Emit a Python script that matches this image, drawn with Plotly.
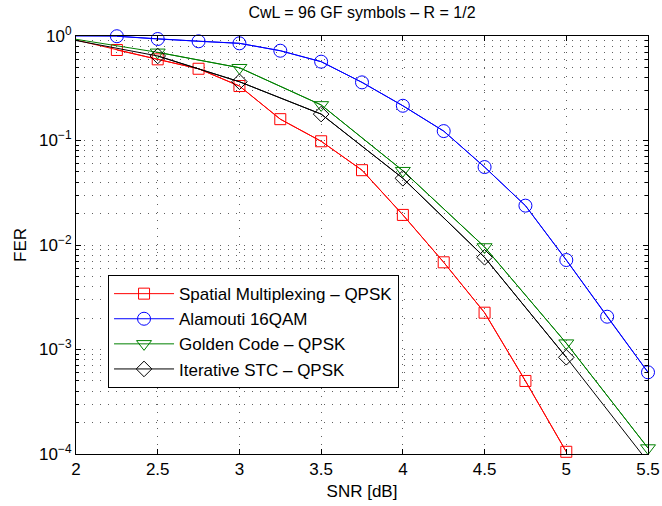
import plotly.graph_objects as go

# Data
x_sm = [2.0, 2.25, 2.5, 2.75, 3.0, 3.25, 3.5, 3.75, 4.0, 4.25, 4.5, 4.75, 5.0]
y_sm = [0.915, 0.735, 0.598, 0.486, 0.332, 0.16, 0.0983, 0.052, 0.0194, 0.00683, 0.00225, 0.0005, 1.05e-4]

x_al = [2.0, 2.25, 2.5, 2.75, 3.0, 3.25, 3.5, 3.75, 4.0, 4.25, 4.5, 4.75, 5.0, 5.25, 5.5]
y_al = [1.0, 0.995, 0.936, 0.89, 0.851, 0.723, 0.568, 0.36, 0.215, 0.123, 0.0557, 0.0238, 0.00718, 0.00206, 0.000605]

x_gc = [2.0, 2.5, 3.0, 3.5, 4.0, 4.5, 5.0, 5.5]
y_gc = [0.93, 0.698, 0.497, 0.219, 0.0514, 0.00957, 0.00115, 1.14e-4]

x_it = [2.0, 2.5, 3.0, 3.5, 4.0, 4.5, 5.0, 5.5]
y_it = [0.905, 0.644, 0.365, 0.179, 0.0435, 0.00762, 0.000842, 8.4e-5]

# which points carry a marker (first index, last index exclusive)
series = [
    ("Spatial Multiplexing \u2013 QPSK", x_sm, y_sm, "red", "square-open", 11, 1, len(x_sm)),
    ("Alamouti 16QAM", x_al, y_al, "blue", "circle-open", 13, 1, len(x_al)),
    ("Golden Code \u2013 QPSK", x_gc, y_gc, "green", "triangle-down-open", 13, 1, len(x_gc)),
    ("Iterative STC \u2013 QPSK", x_it, y_it, "black", "diamond-open", 12, 1, len(x_it) - 1),
]

fig = go.Figure()
for name, xs, ys, col, sym, sz, m0, m1 in series:
    # full line (clipped to the axes)
    fig.add_trace(go.Scatter(x=xs, y=ys, mode="lines", line=dict(color=col, width=1),
                             showlegend=False, hoverinfo="skip"))
    # marker points (not clipped)
    fig.add_trace(go.Scatter(x=xs[m0:m1], y=ys[m0:m1], mode="lines+markers", name=name,
                             line=dict(color=col, width=1),
                             marker=dict(symbol=sym, size=sz, color=col, line=dict(width=1, color=col)),
                             cliponaxis=False))

ticks_y = [1e-4, 1e-3, 1e-2, 1e-1, 1]
ticktext_y = ["10<sup>\u22124</sup>", "10<sup>\u22123</sup>", "10<sup>\u22122</sup>", "10<sup>\u22121</sup>", "10<sup>0</sup>"]
ticks_x = [2, 2.5, 3, 3.5, 4, 4.5, 5, 5.5]
ticktext_x = ["2", "2.5", "3", "3.5", "4", "4.5", "5", "5.5"]

GRID = "#606060"
DASH = "1px,7px"

fig.update_layout(
    width=662, height=506,
    margin=dict(l=76, r=14, t=36, b=52, autoexpand=False),
    paper_bgcolor="white", plot_bgcolor="white",
    font=dict(family="Liberation Sans, Arial, Helvetica, sans-serif", size=17, color="black"),
    title=dict(text="CwL = 96 GF symbols \u2013 R = 1/2", x=0.5, xanchor="center",
               xref="paper", y=1 - 12 / 506, yanchor="middle", font=dict(size=16)),
    legend=dict(x=0.056, y=0.428, xanchor="left", yanchor="top",
                bgcolor="white", bordercolor="black", borderwidth=1,
                font=dict(size=17), tracegroupgap=0, itemwidth=60),
    xaxis=dict(range=[2, 5.5], tickvals=ticks_x, ticktext=ticktext_x, automargin=False,
               showline=True, linecolor="black", linewidth=1, mirror="allticks",
               ticks="inside", ticklen=5, tickcolor="black",
               showgrid=True, gridcolor=GRID, griddash=DASH, gridwidth=1,
               zeroline=False,
               title=dict(text="SNR [dB]", font=dict(size=17), standoff=6),
               tickfont=dict(size=17)),
    yaxis=dict(type="log", range=[-4, 0], tickvals=ticks_y, ticktext=ticktext_y, automargin=False,
               showline=True, linecolor="black", linewidth=1, mirror="allticks",
               ticks="inside", ticklen=5, tickcolor="black",
               showgrid=True, gridcolor=GRID, griddash=DASH, gridwidth=1,
               zeroline=False,
               minor=dict(dtick="D1", ticks="inside", ticklen=3, tickcolor="black",
                          showgrid=True, gridcolor=GRID, griddash=DASH, gridwidth=1),
               title=dict(text="FER", font=dict(size=17), standoff=8),
               tickfont=dict(size=17)),
)

fig.write_html("out.html")
